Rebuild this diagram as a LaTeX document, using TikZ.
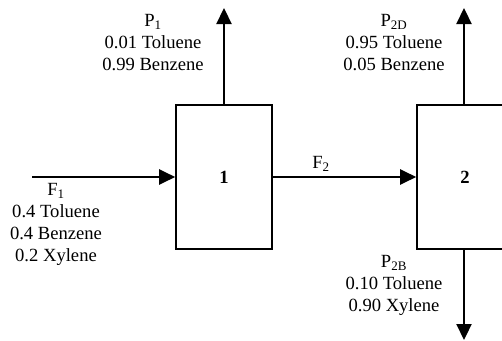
\documentclass[tikz,border=0pt]{standalone}
\usepackage{fontspec}
\setmainfont{Liberation Serif}
\usetikzlibrary{arrows.meta}
\begin{document}
\begin{tikzpicture}[x=1pt,y=-1pt,
  unit/.style={draw,line width=1.6pt,minimum width=96pt,minimum height=144pt,inner sep=0pt,font=\fontsize{18.6}{22}\selectfont\bfseries},
  lbl/.style={align=center,inner sep=0pt,font=\fontsize{18.6}{22}\selectfont},
  flow/.style={line width=2.2pt,-{Triangle[length=16pt,width=15pt]}}]
\useasboundingbox (0,0) rectangle (502,340);
\begin{scope}
\clip (0,0) rectangle (502,340);
\node[unit] (b1) at (224,177) {1};
\node[unit] (b2) at (465,177) {2};
\coordinate (fin) at (32,177);
\coordinate (p1) at (224,8);
\coordinate (p2d) at (464,8);
\coordinate (p2b) at (464,340);
\draw[flow] (fin) -- (b1.west);
\draw[flow] (b1.east) -- (b2.west);
\draw[flow] (b1.north) -- (p1);
\draw[flow] (b2.north -| p2d) -- (p2d);
\draw[flow] (b2.south -| p2b) -- (p2b);
\end{scope}
\node[lbl,anchor=north] (lp1) at (153,14) {P\textsubscript{1}\\0.01 Toluene\\0.99 Benzene};
\node[lbl,anchor=north] (lp2d) at (394,14) {P\textsubscript{2D}\\0.95 Toluene\\0.05 Benzene};
\node[lbl,anchor=north] (lf1) at (56,183) {F\textsubscript{1}\\0.4 Toluene\\0.4 Benzene\\0.2 Xylene};
\node[lbl] (lf2) at (321,164) {F\textsubscript{2}};
\node[lbl,anchor=north] (lp2b) at (394,255) {P\textsubscript{2B}\\0.10 Toluene\\0.90 Xylene};
\end{tikzpicture}
\end{document}
